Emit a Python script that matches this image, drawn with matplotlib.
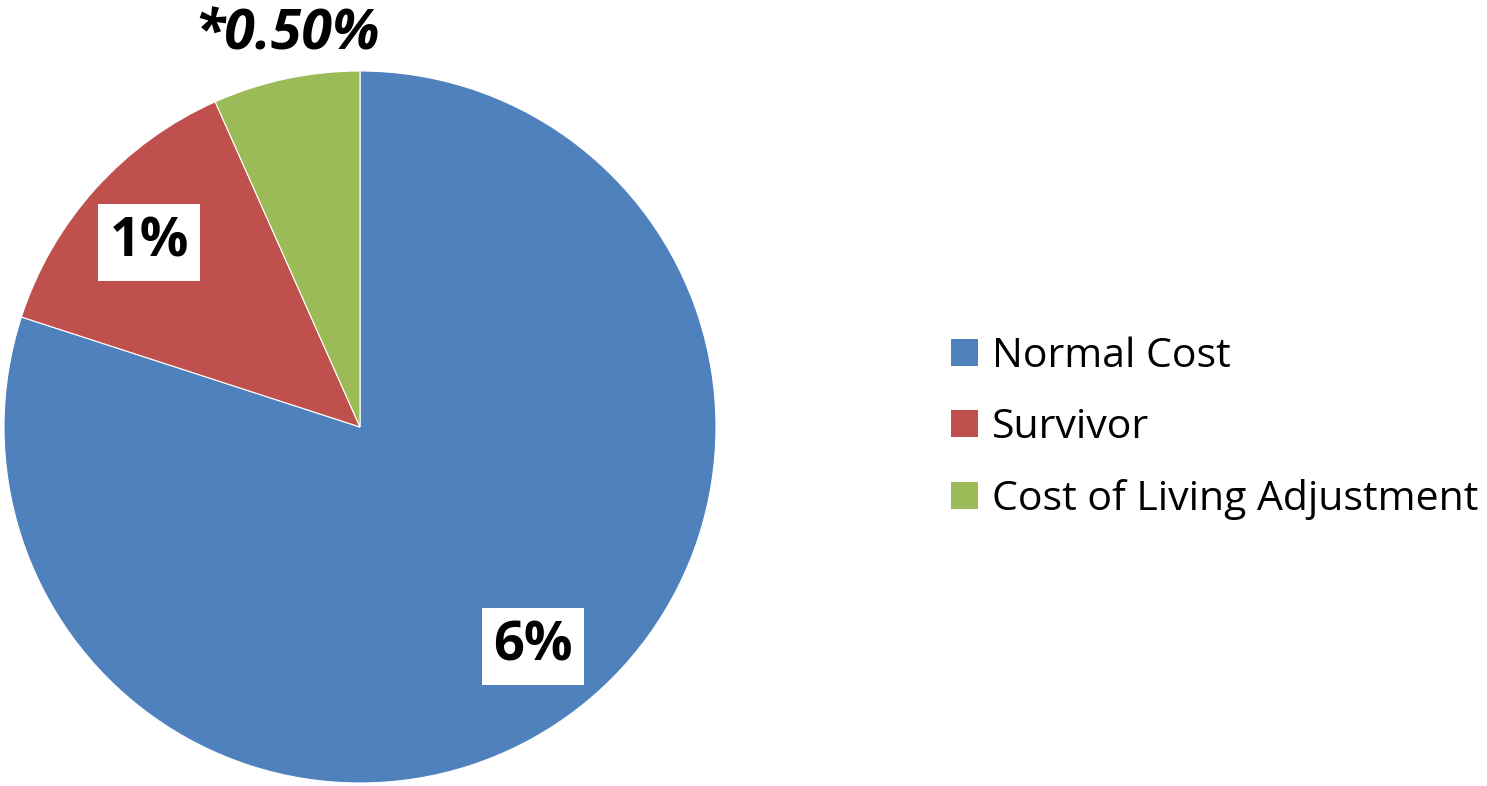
import matplotlib.pyplot as plt
import numpy as np
from matplotlib.patches import Patch

categories = ["Normal Cost", "Survivor", "Cost of Living Adjustment"]
values = [6, 1, 0.5]
value_labels = ["6%", "1%", "*0.50%"]
colors = ["#4F81BD", "#C0504D", "#9BBB59"]

W, H = 1487, 786
fig = plt.figure(figsize=(W / 100, H / 100), dpi=100)
cx, cy, r = 360, 427, 356
ax = fig.add_axes([(cx - r) / W, (H - cy - r) / H, 2 * r / W, 2 * r / H])

wedges, _ = ax.pie(values, colors=colors, startangle=90, counterclock=False,
                   wedgeprops=dict(edgecolor="white", linewidth=0.8))
ax.set_xlim(-1, 1)
ax.set_ylim(-1, 1)
ax.set_aspect("equal")
ax.axis("off")

font = "Open Sans"
# small nudges so the labels sit where the original put them
nudge = [(0.022, 0.022), (-0.005, -0.01), (0.03, 0.0)]
for w, lab, (ox, oy) in zip(wedges, value_labels, nudge):
    th = np.deg2rad((w.theta1 + w.theta2) / 2)
    if lab.startswith("*"):
        ax.text(1.125 * np.cos(th) + ox, 1.125 * np.sin(th) + oy, lab, ha="center",
                va="center", fontsize=40, fontweight="bold", style="italic",
                family=font, clip_on=False)
    else:
        ax.text(0.79 * np.cos(th) + ox, 0.79 * np.sin(th) + oy, lab, ha="center",
                va="center", fontsize=39, fontweight="bold", family=font,
                bbox=dict(facecolor="white", edgecolor="none", pad=8))

handles = [Patch(facecolor=c, edgecolor="none") for c in colors]
fig.legend(handles, categories, loc="center left", bbox_to_anchor=(914 / W, (H - 428) / H),
           frameon=False, prop=dict(family=font, size=29.5), handlelength=0.65,
           handleheight=0.65, handletextpad=0.35, labelspacing=0.75)

fig.savefig("out.png", dpi=100)
